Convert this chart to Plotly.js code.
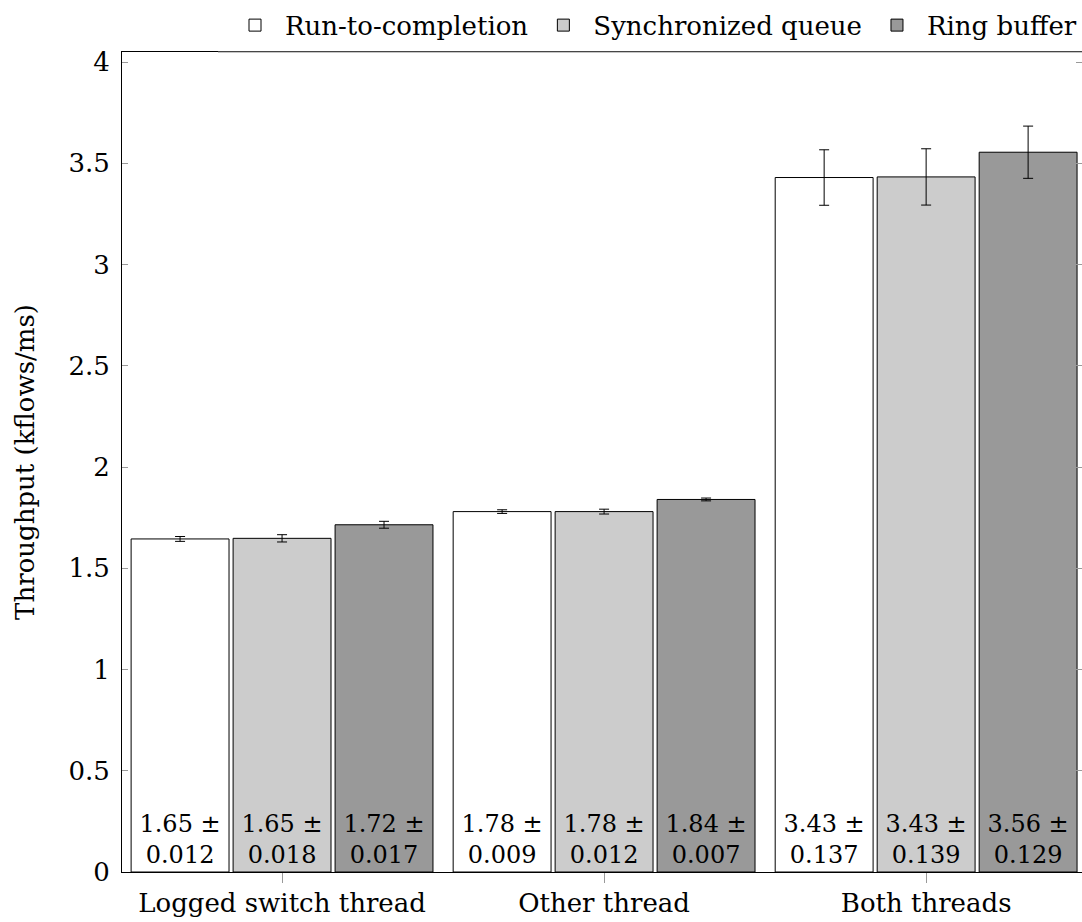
<!DOCTYPE html>
<html>
<head>
<meta charset="utf-8">
<script src="https://cdn.plot.ly/plotly-3.0.1.min.js"></script>
<style>html,body{margin:0;padding:0;background:#fff;}#chart{width:1082px;height:922px;}</style>
</head>
<body>
<div id="chart"></div>
<script>
const categories = ["Logged switch thread", "Other thread", "Both threads"];
const seriesNames = ["Run-to-completion", "Synchronized queue", "Ring buffer"];
const runToCompletion = [1.645, 1.78, 3.43];
const runToCompletionErr = [0.012, 0.009, 0.137];
const syncQueue = [1.648, 1.78, 3.433];
const syncQueueErr = [0.018, 0.012, 0.139];
const ringBuffer = [1.715, 1.84, 3.555];
const ringBufferErr = [0.017, 0.007, 0.129];
const colors = ["#ffffff", "#cccccc", "#999999"];

const FONT = "DejaVu Serif";
const FS = 26;
const FS_IN = 24;
const values = [runToCompletion, syncQueue, ringBuffer];
const errs = [runToCompletionErr, syncQueueErr, ringBufferErr];

const traces = values.map((v, i) => ({
  type: "bar",
  name: seriesNames[i],
  x: categories,
  y: v,
  error_y: {type: "data", array: errs[i], visible: true, color: "#000", thickness: 1, width: 5},
  marker: {color: colors[i], line: {color: "#000", width: 1}},
  text: v.map((val, k) => val.toFixed(2) + " ±<br>" + errs[i][k].toFixed(3)),
  textposition: "inside",
  insidetextanchor: "start",
  textangle: 0,
  constraintext: "none",
  textfont: {family: FONT, size: FS_IN, color: "#000"},
  insidetextfont: {family: FONT, size: FS_IN, color: "#000"},
  hoverinfo: "skip"
}));

const layout = {
  width: 1082, height: 922,
  margin: {l: 122, r: 0, t: 52, b: 50, autoexpand: false},
  paper_bgcolor: "#fff", plot_bgcolor: "#fff",
  font: {family: FONT, size: FS, color: "#000"},
  barmode: "group",
  bargap: 0.05,
  bargroupgap: 0.04,
  showlegend: true,
  legend: {
    orientation: "h", x: 1, xanchor: "right", y: 1.004, yanchor: "bottom",
    bgcolor: "rgba(255,255,255,0)", borderwidth: 0,
    font: {family: FONT, size: FS, color: "#000"},
    traceorder: "normal", itemwidth: 50
  },
  shapes: [{
    type: "line", xref: "paper", yref: "paper", x0: 0.1, x1: 1, y0: 1, y1: 1,
    line: {color: "#8c8c8c", width: 1.2}, layer: "above"
  }],
  xaxis: {
    range: [-0.497, 2.484],
    showgrid: false, zeroline: false,
    showline: true, linecolor: "#000", linewidth: 1, mirror: true,
    ticks: "outside", ticklen: 10, tickcolor: "#999", tickwidth: 1,
    ticklabelstandoff: -2,
    tickfont: {family: FONT, size: FS, color: "#000"}
  },
  yaxis: {
    range: [0, 4.05],
    showgrid: false, zeroline: false,
    showline: true, linecolor: "#000", linewidth: 1, mirror: "ticks",
    ticks: "inside", ticklen: 6, tickcolor: "#999", tickwidth: 1,
    ticklabelstandoff: 6,
    tickvals: [0, 0.5, 1, 1.5, 2, 2.5, 3, 3.5, 4],
    ticktext: ["0", "0.5", "1", "1.5", "2", "2.5", "3", "3.5", "4"],
    tickfont: {family: FONT, size: FS, color: "#000"},
    title: {text: "Throughput (kflows/ms)", font: {family: FONT, size: FS, color: "#000"}, standoff: 26}
  }
};

Plotly.newPlot("chart", traces, layout, {displayModeBar: false, staticPlot: true});
</script>
</body>
</html>
